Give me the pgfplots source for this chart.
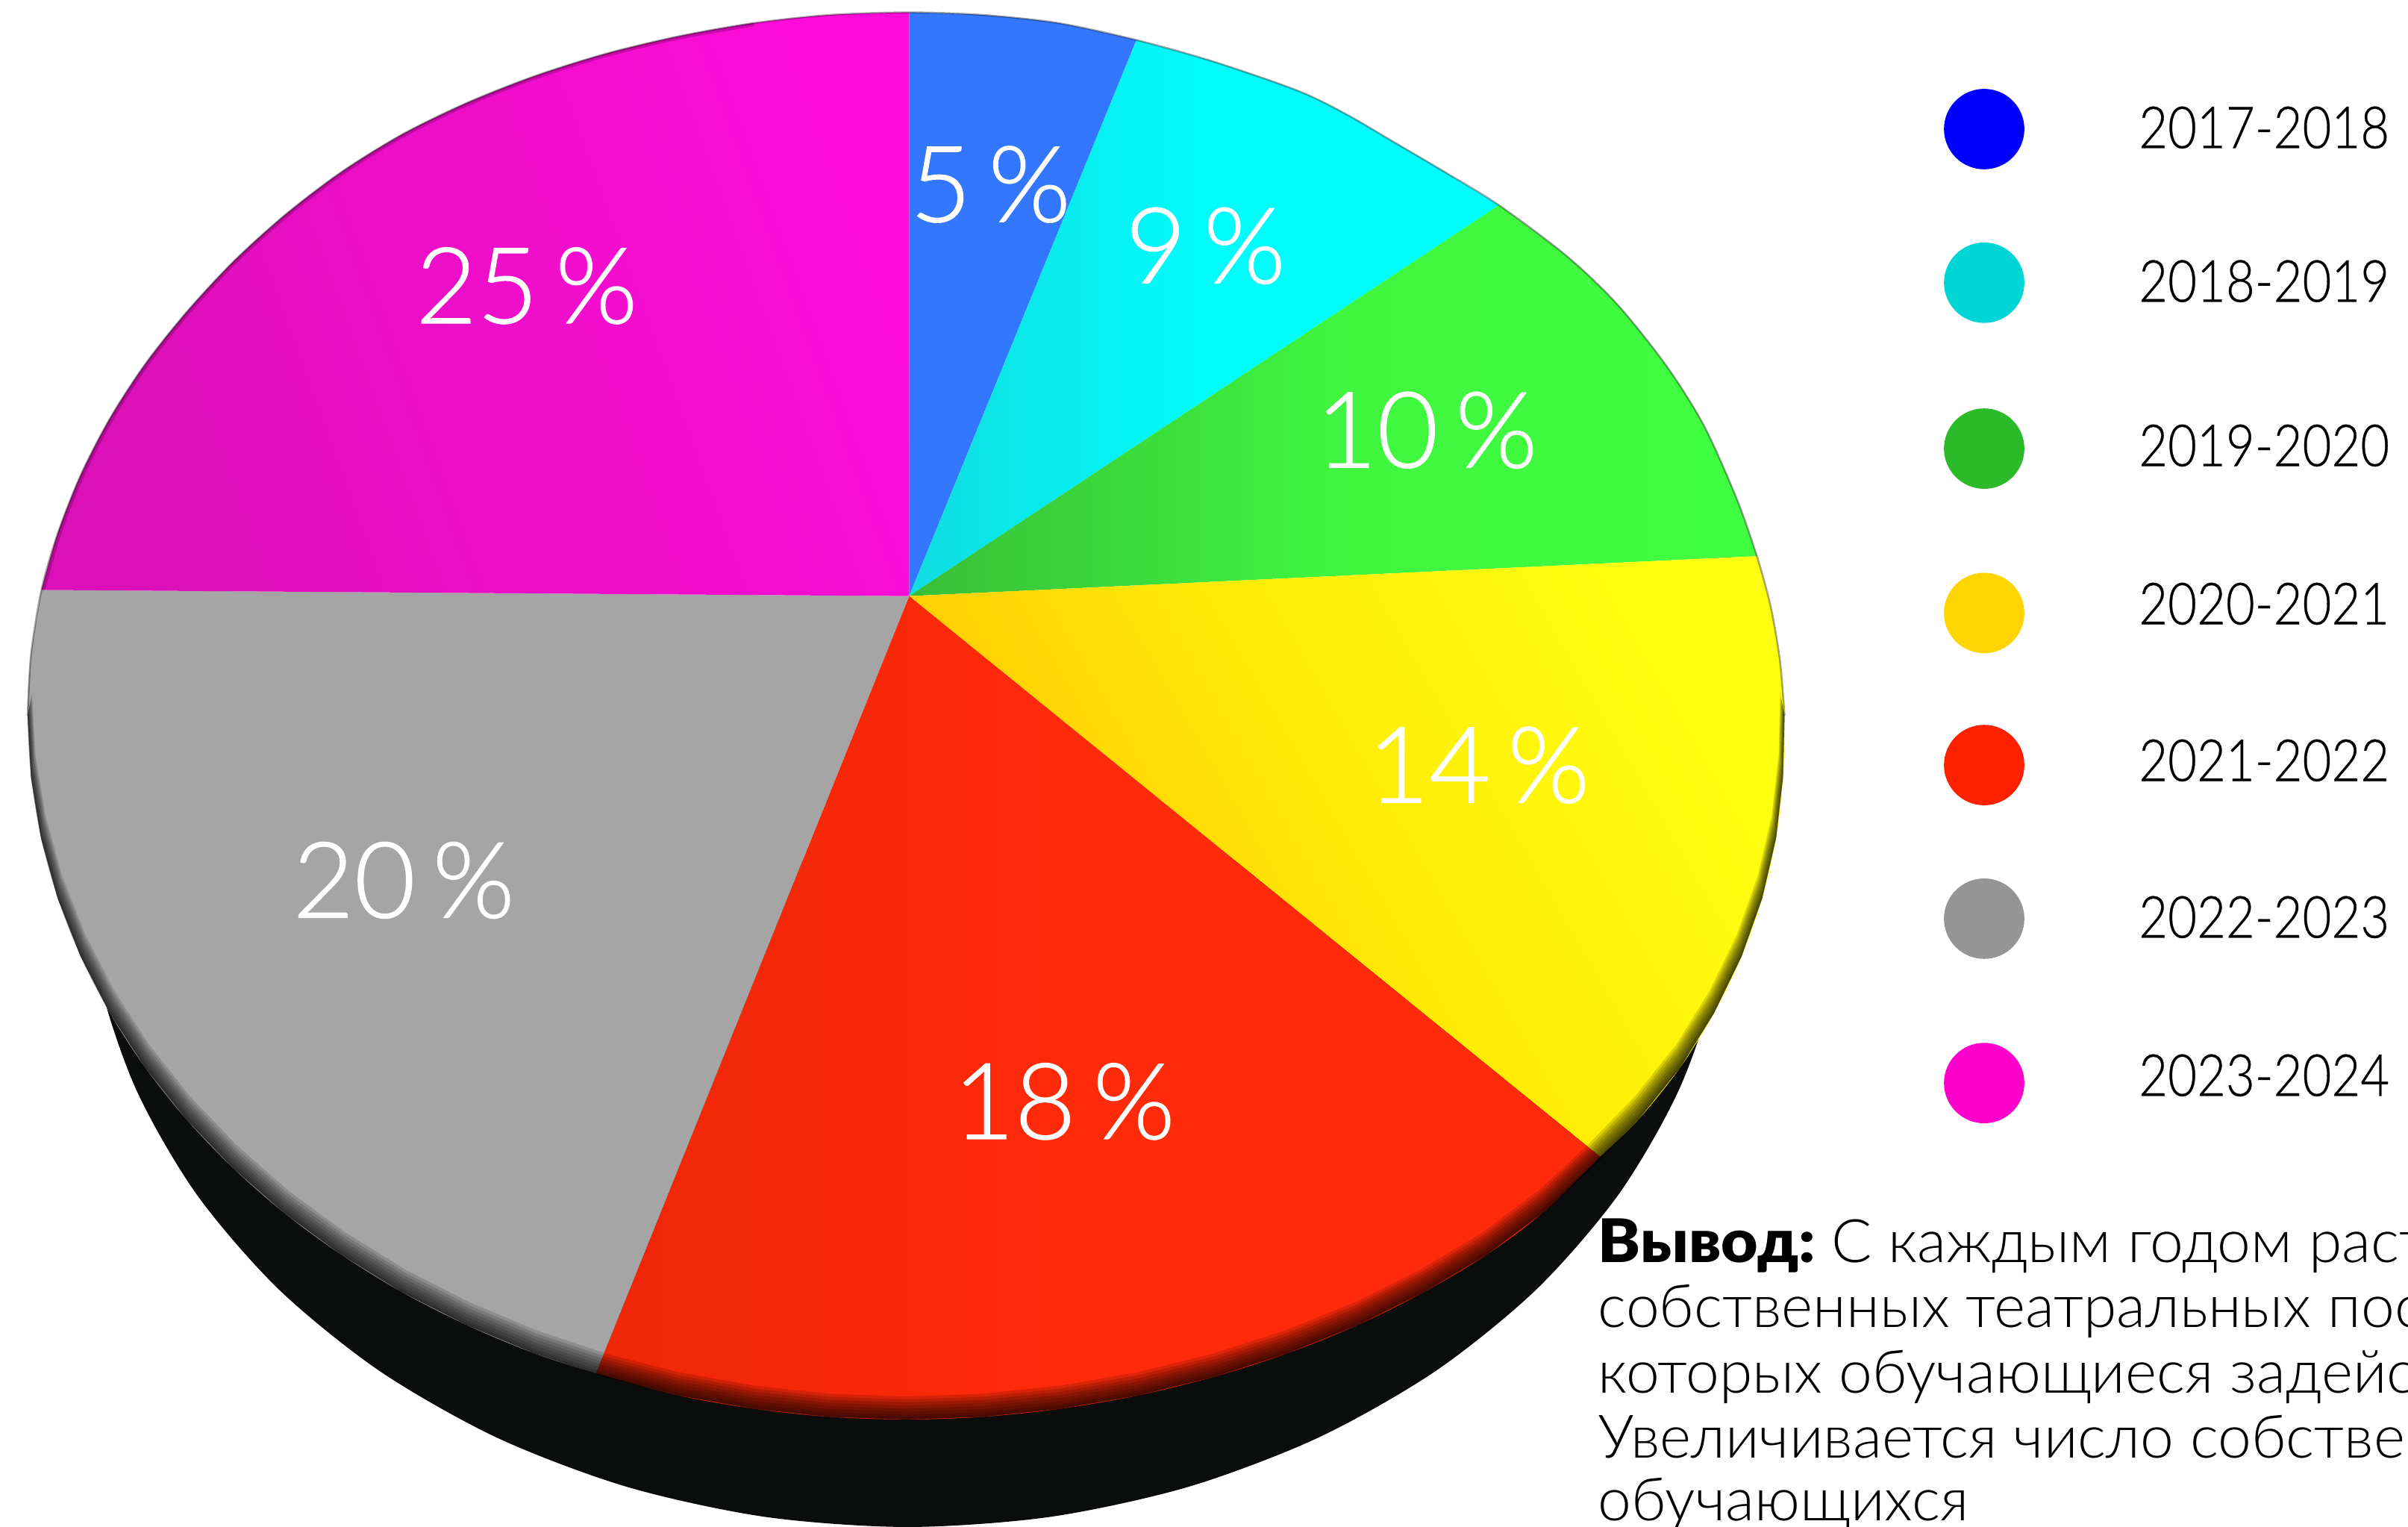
\documentclass[border=0pt]{standalone}
\usepackage{fontspec}
\setmainfont{Lato Light}[BoldFont={Lato Black}]
\newfontfamily\pctfont{Lato Light}[FakeBold=0.9]
\newfontfamily\legfont{Lato Light}[FakeBold=0.4]
\usepackage{pgfplots}
\usepackage{pgfplotstable}
\pgfplotsset{compat=1.18}

% lower rim of the top face there and back, d says which rows get pulled in for the bevel
\pgfplotstableread{
x y d
18 466 0
20.2 505.9 0
26.7 545.5 0
37.5 584.5 0
52.5 622.6 0
71.6 659.6 0
94.6 695 0
121.4 728.7 0
151.8 760.4 0
185.5 789.9 0
222.3 816.8 0
261.9 841.2 0
304 862.6 0
348.3 881.1 0
394.4 896.4 0
442 908.4 0
490.7 917 0
540.1 922.3 0
590 924 0
640 922.3 0
691 917 0
741 908.4 0
790 896.4 0
838 881.1 0
884 862.6 0
927 841.2 0
968 816.8 0
1004 789.9 0
1036 760.4 0
1067 728.7 0
1094 695 0
1116 659.6 0
1134 622.6 0
1147.5 584.5 0
1156.5 545.5 0
1161 505.9 0
1162 466 0
1162 466 1
1161 505.9 1
1156.5 545.5 1
1147.5 584.5 1
1134 622.6 1
1116 659.6 1
1094 695 1
1067 728.7 1
1036 760.4 1
1004 789.9 1
968 816.8 1
927 841.2 1
884 862.6 1
838 881.1 1
790 896.4 1
741 908.4 1
691 917 1
640 922.3 1
590 924 1
540.1 922.3 1
490.7 917 1
442 908.4 1
394.4 896.4 1
348.3 881.1 1
304 862.6 1
261.9 841.2 1
222.3 816.8 1
185.5 789.9 1
151.8 760.4 1
121.4 728.7 1
94.6 695 1
71.6 659.6 1
52.5 622.6 1
37.5 584.5 1
26.7 545.5 1
20.2 505.9 1
18 466 1
}\rim

% upper rim, only a faint edge there
\pgfplotstableread{
x y
18 466
20.2 426.1
27 384
37.5 347.5
52.5 309.4
71.6 272.4
94.6 237
121.4 203.3
151.8 170.5
185.5 140
222.3 112
261.9 87.5
304 67
348.3 49.5
394.4 35
442 23.6
490.7 15
540.1 9.7
592 8
639.9 9.7
689.3 15
740 26
790 40
845 59
876 74
906 91.5
940 111.5
976 133.5
1020 166.5
1053 198
1085 238
1109.5 277
1130.6 324
1144 362
1153 395
1159 430
1162 466
}\rimup

% label positions and percentages
\pgfplotstableread{
x y v
645 120 5
785 160 9
929 280 10
963 498 14
693 717 18
263 573 20
343 186 25
}\slices

\definecolor{cBlue}{HTML}{3377FF}
\definecolor{cCyanL}{HTML}{10DCE0}
\definecolor{cCyanR}{HTML}{00FFFF}
\definecolor{cGreenL}{HTML}{38BE38}
\definecolor{cGreenR}{HTML}{40FF40}
\definecolor{cYelL}{HTML}{FFC000}
\definecolor{cYelM}{HTML}{FFEA06}
\definecolor{cYelR}{HTML}{FFFF10}
\definecolor{cRedL}{HTML}{EE2608}
\definecolor{cRedR}{HTML}{FF2A0A}
\definecolor{cGrey}{HTML}{A5A5A5}
\definecolor{cMagL}{HTML}{DC10B8}
\definecolor{cMagR}{HTML}{FF0CDA}
\definecolor{cSide}{HTML}{0B0C0C}

\newcommand{\bevel}[1]{%
\addplot[fill=black, fill opacity=.14, draw=none]
  table[x expr=\thisrow{x}-\thisrow{d}*#1*(\thisrow{x}-590)/3000, y expr=\thisrow{y}-\thisrow{d}*#1] {\rim} --cycle;}
\newcommand{\legendline}[4]{%
\addplot[only marks, mark=*, mark size=7.4pt, color=#1] coordinates {(1292,#2)};
\node[anchor=west, inner sep=0pt, font=\legfont\fontsize{11}{11}\selectfont] at (axis cs:1392,#3) {\scalebox{.86}[1]{#4}};}

\begin{document}
\begin{tikzpicture}
\clip (0,0) rectangle (16cm,10.144cm);
\begin{axis}[
    at={(0,0)}, anchor=south west,
    scale only axis,
    width=16cm, height=10.144cm,
    xmin=0, xmax=1568, ymin=0, ymax=994,
    y dir=reverse,
    axis lines=none,
    clip=false,
]

% side of the disc
\addplot[smooth, fill=cSide, draw=none] coordinates {
(56,560) (64.1,635.3) (88.3,708.4) (127.7,777) (181.2,839) (247.1,892.4) (323.5,935.8) (408,967.8) (498.1,987.4)
(591,994) (683.9,987.4) (774,967.8) (858.5,935.8) (934.9,892.4) (1000.8,839) (1054.3,777) (1093.7,708.4) (1117.9,635.3) (1126,560)
} --cycle;

% 2017-2018
\addplot[smooth, fill=cBlue, draw=none] coordinates {
(592,8) (639.9,9.7) (689.3,15) (740,26)
} -- (592,388) -- cycle;
% 2018-2019
\addplot[smooth, left color=cCyanL, right color=cCyanR, middle color=cCyanR!90!cCyanL, draw=none] coordinates {
(740,26) (790,40) (845,59) (876,74) (906,91.5) (940,111.5) (976,133.5)
} -- (592,388) -- cycle;
% 2019-2020
\addplot[smooth, left color=cGreenL, right color=cGreenR, middle color=cGreenR!85!cGreenL, draw=none] coordinates {
(976,133.5) (1020,166.5) (1053,198) (1085,238) (1109.5,277) (1130.6,324) (1144,362)
} -- (592,388) -- cycle;
% 2020-2021
\addplot[smooth, left color=cYelL, right color=cYelR, middle color=cYelM, shading angle=120, draw=none] coordinates {
(1144,362) (1153,395) (1159,430) (1162,466) (1161,505.9) (1156.5,545.5) (1147.5,584.5) (1134,622.6) (1116,659.6) (1094,695) (1067,728.7) (1042,753)
} -- (592,388) -- cycle;
% 2021-2022
\addplot[smooth, left color=cRedL, right color=cRedR, middle color=cRedR, draw=none] coordinates {
(1042,753) (1004,789.9) (968,816.8) (927,841.2) (884,862.6) (838,881.1) (790,896.4) (741,908.4) (691,917) (640,922.3) (590,924) (540.1,922.3) (490.7,917) (442,908.4) (388,894)
} -- (592,388) -- cycle;
% 2022-2023
\addplot[smooth, fill=cGrey, draw=none] coordinates {
(388,894) (348.3,881.1) (304,862.6) (261.9,841.2) (222.3,816.8) (185.5,789.9) (151.8,760.4) (121.4,728.7) (94.6,695) (71.6,659.6) (52.5,622.6) (37.5,584.5) (26.7,545.5) (20.2,505.9) (18,466) (20.2,426.1) (27,384)
} -- (592,388) -- cycle;
% 2023-2024
\addplot[smooth, left color=cMagL, right color=cMagR, shading angle=110, draw=none] coordinates {
(27,384) (37.5,347.5) (52.5,309.4) (71.6,272.4) (94.6,237) (121.4,203.3) (151.8,170.5) (185.5,140) (222.3,112) (261.9,87.5) (304,67) (348.3,49.5) (394.4,35) (442,23.6) (490.7,15) (540.1,9.7) (592,8)
} -- (592,388) -- cycle;

% dark bevel along the lower rim, crescents on top of each other
\bevel{1.5}
\bevel{3}
\bevel{5}
\bevel{7}
\bevel{9}
\bevel{11}
\bevel{13}
\bevel{15}

% faint edge on the upper rim
\addplot[smooth, draw=black, opacity=.35, line width=.35pt] table[x=x, y=y] {\rimup};
\addplot[smooth, draw=black, opacity=.2, line width=.7pt, restrict x to domain=27:500] table[x expr=590+(\thisrow{x}-590)*0.998, y expr=466+(\thisrow{y}-466)*0.998] {\rimup};

% percentages
\addplot[only marks, mark=none,
    point meta=explicit symbolic,
    nodes near coords={\pgfplotspointmeta\hspace{3.2pt}\%},
    nodes near coords style={anchor=center, text=white, font=\pctfont\fontsize{20}{20}\selectfont},
] table[x=x, y=y, meta=v] {\slices};

% legend
\legendline{blue}{84}{83}{2017-2018}
\legendline{{rgb,255:red,0;green,213;blue,213}}{184}{183}{2018-2019}
\legendline{{rgb,255:red,42;green,186;blue,42}}{292}{290}{2019-2020}
\legendline{{rgb,255:red,255;green,212;blue,0}}{399}{393}{2020-2021}
\legendline{{rgb,255:red,255;green,32;blue,0}}{498}{495}{2021-2022}
\legendline{{rgb,255:red,149;green,149;blue,149}}{598}{597}{2022-2023}
\legendline{{rgb,255:red,255;green,0;blue,204}}{705}{700}{2023-2024}

\tikzset{concl/.style={anchor=base west, inner sep=0pt, font=\fontsize{11.35}{12}\selectfont}}
\node[concl] at (axis cs:1040,822) {\scalebox{1.06}[1]{\textbf{Вывод:}} С каждым годом раст};
\node[concl] at (axis cs:1040,864) {собственных театральных пос};
\node[concl] at (axis cs:1040,907) {которых обучающиеся задейс};
\node[concl] at (axis cs:1040,949) {Увеличивается число собстве};
\node[concl] at (axis cs:1040,990) {обучающихся};

\end{axis}
\end{tikzpicture}
\end{document}
